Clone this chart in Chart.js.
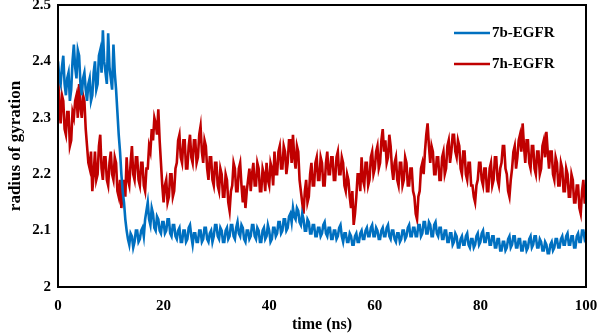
<!DOCTYPE html>
<html>
<head>
<meta charset="utf-8">
<script src="https://cdn.jsdelivr.net/npm/chart.js@4/dist/chart.umd.min.js"></script>
<style>
  html, body { margin: 0; padding: 0; background: #fff; }
  #wrap { width: 597px; height: 336px; }
</style>
</head>
<body>
<div id="wrap"><canvas id="rgChart" width="597" height="336"></canvas></div>
<script>
// series names
const seriesNames = ['7b-EGFR', '7h-EGFR'];

// radius of gyration read every 0.25 ns (0 .. 100 ns), one row = 5 ns
// 7b-EGFR
const rg7b = [
  2.40, 2.37, 2.36, 2.39, 2.41, 2.36, 2.34, 2.37, 2.38, 2.33, 2.35, 2.40, 2.43, 2.39, 2.37, 2.42, 2.41, 2.36, 2.34, 2.37,
  2.38, 2.35, 2.33, 2.36, 2.37, 2.33, 2.34, 2.38, 2.40, 2.35, 2.36, 2.41, 2.42, 2.38, 2.455, 2.40, 2.38, 2.36, 2.45, 2.39,
  2.37, 2.35, 2.43, 2.38, 2.35, 2.31, 2.27, 2.24, 2.20, 2.17, 2.15, 2.12, 2.10, 2.085, 2.075, 2.095, 2.09, 2.07, 2.08, 2.10,
  2.10, 2.08, 2.085, 2.10, 2.105, 2.09, 2.12, 2.135, 2.15, 2.12, 2.11, 2.14, 2.13, 2.105, 2.10, 2.125, 2.12, 2.10, 2.095, 2.115,
  2.115, 2.095, 2.10, 2.12, 2.12, 2.095, 2.09, 2.11, 2.11, 2.09, 2.085, 2.10, 2.105, 2.08, 2.08, 2.10, 2.10, 2.08, 2.085, 2.105,
  2.11, 2.09, 2.075, 2.095, 2.095, 2.08, 2.08, 2.10, 2.10, 2.08, 2.085, 2.105, 2.105, 2.085, 2.08, 2.095, 2.10, 2.08, 2.09, 2.11,
  2.11, 2.09, 2.085, 2.105, 2.10, 2.08, 2.08, 2.10, 2.105, 2.085, 2.09, 2.11, 2.11, 2.09, 2.085, 2.105, 2.115, 2.095, 2.09, 2.11,
  2.105, 2.085, 2.08, 2.10, 2.10, 2.085, 2.09, 2.11, 2.11, 2.09, 2.085, 2.105, 2.10, 2.08, 2.08, 2.10, 2.105, 2.085, 2.09, 2.11,
  2.10, 2.08, 2.085, 2.105, 2.105, 2.09, 2.095, 2.115, 2.115, 2.095, 2.10, 2.12, 2.12, 2.10, 2.105, 2.125, 2.13, 2.115, 2.14, 2.125,
  2.12, 2.14, 2.135, 2.115, 2.11, 2.13, 2.12, 2.10, 2.10, 2.12, 2.115, 2.095, 2.095, 2.11, 2.11, 2.09, 2.09, 2.105, 2.105, 2.09,
  2.095, 2.11, 2.115, 2.095, 2.09, 2.105, 2.105, 2.085, 2.085, 2.10, 2.10, 2.085, 2.09, 2.105, 2.11, 2.09, 2.08, 2.095, 2.095, 2.08,
  2.08, 2.095, 2.09, 2.075, 2.075, 2.09, 2.095, 2.08, 2.08, 2.095, 2.10, 2.085, 2.085, 2.10, 2.105, 2.09, 2.09, 2.105, 2.11, 2.09,
  2.09, 2.105, 2.10, 2.085, 2.085, 2.10, 2.105, 2.09, 2.09, 2.105, 2.11, 2.09, 2.085, 2.10, 2.10, 2.085, 2.08, 2.095, 2.095, 2.08,
  2.085, 2.10, 2.10, 2.085, 2.09, 2.105, 2.11, 2.09, 2.09, 2.105, 2.105, 2.09, 2.09, 2.11, 2.11, 2.09, 2.095, 2.115, 2.115, 2.095,
  2.095, 2.115, 2.11, 2.09, 2.09, 2.11, 2.115, 2.095, 2.09, 2.105, 2.105, 2.085, 2.085, 2.10, 2.10, 2.08, 2.08, 2.095, 2.095, 2.075,
  2.08, 2.095, 2.09, 2.07, 2.07, 2.085, 2.09, 2.075, 2.075, 2.09, 2.095, 2.075, 2.07, 2.085, 2.085, 2.07, 2.075, 2.09, 2.095, 2.075,
  2.08, 2.095, 2.10, 2.08, 2.08, 2.095, 2.095, 2.075, 2.075, 2.09, 2.09, 2.07, 2.07, 2.085, 2.085, 2.065, 2.065, 2.08, 2.08, 2.065,
  2.07, 2.085, 2.09, 2.07, 2.075, 2.09, 2.09, 2.07, 2.07, 2.085, 2.085, 2.065, 2.065, 2.08, 2.08, 2.065, 2.07, 2.085, 2.09, 2.07,
  2.075, 2.09, 2.09, 2.07, 2.07, 2.085, 2.08, 2.065, 2.065, 2.08, 2.075, 2.06, 2.06, 2.075, 2.08, 2.065, 2.07, 2.085, 2.085, 2.07,
  2.07, 2.085, 2.09, 2.075, 2.075, 2.09, 2.095, 2.075, 2.075, 2.09, 2.09, 2.07, 2.07, 2.09, 2.095, 2.08, 2.08, 2.10, 2.10, 2.085,
  2.09
];

// 7h-EGFR
const rg7h = [
  2.38, 2.32, 2.29, 2.34, 2.33, 2.28, 2.27, 2.31, 2.31, 2.25, 2.26, 2.31, 2.30, 2.33, 2.34, 2.30, 2.36, 2.32, 2.30, 2.34,
  2.33, 2.28, 2.25, 2.22, 2.21, 2.24, 2.17, 2.20, 2.24, 2.19, 2.20, 2.25, 2.27, 2.21, 2.19, 2.23, 2.23, 2.19, 2.18, 2.22,
  2.24, 2.20, 2.19, 2.23, 2.22, 2.17, 2.16, 2.19, 2.14, 2.17, 2.19, 2.16, 2.23, 2.19, 2.18, 2.22, 2.25, 2.20, 2.19, 2.23,
  2.23, 2.19, 2.18, 2.22, 2.22, 2.18, 2.17, 2.21, 2.21, 2.25, 2.24, 2.28, 2.26, 2.30, 2.29, 2.27, 2.315, 2.26, 2.22, 2.18,
  2.15, 2.18, 2.19, 2.15, 2.16, 2.20, 2.20, 2.16, 2.17, 2.21, 2.22, 2.26, 2.27, 2.23, 2.22, 2.26, 2.26, 2.21, 2.21, 2.25,
  2.27, 2.23, 2.22, 2.26, 2.26, 2.22, 2.23, 2.27, 2.285, 2.24, 2.22, 2.26, 2.25, 2.21, 2.19, 2.23, 2.23, 2.19, 2.18, 2.22,
  2.22, 2.18, 2.17, 2.21, 2.20, 2.16, 2.16, 2.20, 2.19, 2.15, 2.135, 2.17, 2.18, 2.22, 2.21, 2.17, 2.17, 2.21, 2.22, 2.18,
  2.15, 2.18, 2.14, 2.17, 2.19, 2.21, 2.17, 2.20, 2.22, 2.18, 2.18, 2.22, 2.21, 2.17, 2.17, 2.21, 2.20, 2.17, 2.22, 2.19,
  2.18, 2.22, 2.21, 2.18, 2.24, 2.20, 2.20, 2.24, 2.25, 2.21, 2.21, 2.25, 2.24, 2.20, 2.22, 2.26, 2.26, 2.22, 2.27, 2.23,
  2.21, 2.25, 2.24, 2.19, 2.17, 2.15, 2.13, 2.17, 2.19, 2.15, 2.16, 2.20, 2.22, 2.18, 2.18, 2.22, 2.23, 2.19, 2.19, 2.23,
  2.22, 2.18, 2.18, 2.22, 2.24, 2.20, 2.20, 2.23, 2.23, 2.19, 2.19, 2.23, 2.24, 2.20, 2.20, 2.23, 2.22, 2.18, 2.17, 2.20,
  2.19, 2.16, 2.14, 2.17, 2.11, 2.13, 2.16, 2.20, 2.20, 2.17, 2.23, 2.19, 2.18, 2.22, 2.22, 2.18, 2.19, 2.23, 2.24, 2.20,
  2.21, 2.24, 2.25, 2.21, 2.22, 2.26, 2.28, 2.24, 2.26, 2.22, 2.23, 2.27, 2.25, 2.21, 2.19, 2.22, 2.23, 2.19, 2.18, 2.22,
  2.22, 2.18, 2.19, 2.23, 2.22, 2.18, 2.18, 2.21, 2.21, 2.17, 2.16, 2.13, 2.12, 2.16, 2.17, 2.21, 2.22, 2.20, 2.24, 2.27,
  2.29, 2.25, 2.22, 2.25, 2.24, 2.20, 2.20, 2.23, 2.23, 2.19, 2.19, 2.23, 2.24, 2.20, 2.21, 2.25, 2.26, 2.22, 2.24, 2.27,
  2.27, 2.24, 2.23, 2.26, 2.25, 2.21, 2.20, 2.24, 2.24, 2.20, 2.19, 2.22, 2.22, 2.18, 2.18, 2.16, 2.15, 2.18, 2.19, 2.22,
  2.22, 2.19, 2.18, 2.21, 2.21, 2.17, 2.17, 2.21, 2.22, 2.18, 2.19, 2.23, 2.23, 2.19, 2.18, 2.21, 2.22, 2.25, 2.25, 2.21,
  2.20, 2.17, 2.16, 2.19, 2.21, 2.24, 2.25, 2.21, 2.23, 2.26, 2.27, 2.24, 2.29, 2.25, 2.22, 2.26, 2.26, 2.22, 2.21, 2.25,
  2.25, 2.21, 2.20, 2.24, 2.24, 2.20, 2.21, 2.25, 2.26, 2.23, 2.275, 2.24, 2.21, 2.24, 2.24, 2.20, 2.19, 2.23, 2.22, 2.18,
  2.18, 2.22, 2.21, 2.17, 2.17, 2.21, 2.20, 2.16, 2.16, 2.20, 2.19, 2.15, 2.15, 2.18, 2.18, 2.14, 2.13, 2.17, 2.19, 2.15,
  2.15
];

// time axis, one sample every 0.25 ns
const timeStep = 0.25;
const times = rg7b.map((v, i) => i * timeStep);

const toPoints = arr => arr.map((v, i) => ({ x: times[i], y: v }));

const serif = "'Liberation Serif', 'Times New Roman', serif";

// black box round the plot area
const frame = {
  id: 'frame',
  afterDraw(chart) {
    const { ctx, chartArea: a } = chart;
    ctx.save();
    ctx.strokeStyle = '#000';
    ctx.lineWidth = 2;
    ctx.strokeRect(a.left, a.top, a.right - a.left, a.bottom - a.top);
    ctx.restore();
  }
};

// legend inside the plot, top right
const innerLegend = {
  id: 'innerLegend',
  afterDraw(chart) {
    const ctx = chart.ctx;
    ctx.save();
    ctx.font = 'bold 15px ' + serif;
    ctx.textBaseline = 'middle';
    chart.data.datasets.forEach((ds, i) => {
      const y = 33 + i * 31;
      ctx.strokeStyle = ds.borderColor;
      ctx.lineWidth = 2.5;
      ctx.beginPath();
      ctx.moveTo(454, y);
      ctx.lineTo(490, y);
      ctx.stroke();
      ctx.fillStyle = '#000';
      ctx.fillText(ds.label, 492, y);
    });
    ctx.restore();
  }
};

const ctx = document.getElementById('rgChart');

new Chart(ctx, {
  type: 'line',
  data: {
    datasets: [
      {
        label: seriesNames[0],
        data: toPoints(rg7b),
        borderColor: '#0070C0',
        borderWidth: 2.6,
        pointRadius: 0,
        tension: 0
      },
      {
        label: seriesNames[1],
        data: toPoints(rg7h),
        borderColor: '#C00000',
        borderWidth: 2.6,
        pointRadius: 0,
        tension: 0
      }
    ]
  },
  options: {
    responsive: false,
    animation: false,
    devicePixelRatio: 1,
    layout: {
      padding: { left: 0, right: 11, top: 5, bottom: 0 }
    },
    plugins: {
      legend: { display: false },
      tooltip: { enabled: false }
    },
    scales: {
      x: {
        type: 'linear',
        min: 0,
        max: 100,
        grid: { display: false, drawTicks: false },
        border: { display: false },
        ticks: {
          stepSize: 20,
          padding: 10,
          color: '#000',
          font: { family: serif, size: 15, weight: 'bold' },
          maxRotation: 0
        },
        title: {
          display: true,
          text: 'time (ns)',
          color: '#000',
          font: { family: serif, size: 16, weight: 'bold' },
          padding: { top: 0, bottom: 2 }
        },
        afterFit(scale) {
          scale.height = 49;
          scale.paddingLeft = 0;
          scale.paddingRight = 0;
        }
      },
      y: {
        min: 2,
        max: 2.5,
        grid: { display: false, drawTicks: false },
        border: { display: false },
        ticks: {
          stepSize: 0.1,
          padding: 7,
          color: '#000',
          font: { family: serif, size: 15, weight: 'bold' },
          callback: v => String(+v.toFixed(1))
        },
        title: {
          display: true,
          text: 'radius of gyration',
          color: '#000',
          font: { family: serif, size: 17, weight: 'bold' },
          padding: { top: 5, bottom: 0 }
        },
        afterFit(scale) {
          scale.width = 58;
          scale.paddingTop = 0;
          scale.paddingBottom = 0;
        }
      }
    }
  },
  plugins: [frame, innerLegend]
});
</script>
</body>
</html>
